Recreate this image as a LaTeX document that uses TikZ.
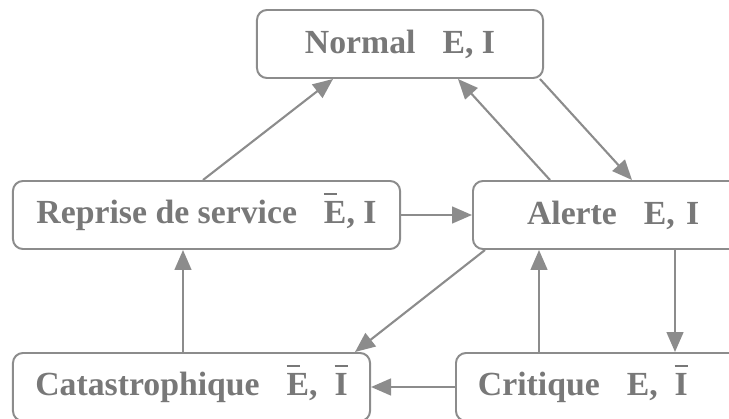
\documentclass[tikz,border=0pt]{standalone}
\usepackage{fontspec}
\setmainfont{Liberation Serif}
\usetikzlibrary{arrows.meta}

\definecolor{trait}{RGB}{140,140,140}
\definecolor{encre}{RGB}{120,120,120}
% lettre surlignee (negation)
\newcommand{\barre}[1]{\leavevmode\setbox0\hbox{#1}%
  \rlap{\smash{\raisebox{\dimexpr\ht0+0.17em\relax}{\rule{0.4em}{0.08em}}}}\box0}

\begin{document}
\begin{tikzpicture}[x=0.025cm, y=-0.025cm,
    etat/.style={draw=trait, line width=1.4pt, rounded corners=0.25cm,
      minimum height=1.7cm, text=encre,
      font=\fontsize{24}{28}\selectfont\bfseries},
    fleche/.style={draw=trait, line width=1.5pt,
      -{Triangle[length=0.5cm, width=0.42cm]}}]
  	\useasboundingbox (0,0) rectangle (729,419);
  	\clip (0,0) rectangle (729,419);

  	% les cinq etats
  	\node[etat, minimum width=7.15cm] (normal) at (400,44)
    		{Normal\hspace{0.8em}E, I};
  	\node[etat, minimum width=9.675cm] (reprise) at (206.5,215)
    		{Reprise de service\hspace{0.8em}\barre{E}, I};
  	\node[etat, anchor=west, text width=6cm, align=left, inner xsep=1.35cm]
    		(alerte) at (472,215) {Alerte\hspace{0.8em}E, I};
  	\node[etat, minimum width=8.925cm] (catas) at (191.5,387)
    		{Catastrophique\hspace{0.8em}\barre{E},\hspace{0.5em}\barre{I}};
  	\node[etat, anchor=west, text width=7cm, align=left, inner xsep=0.55cm]
    		(critique) at (455,387) {Critique\hspace{0.8em}E,\hspace{0.5em}\barre{I}};

  	% transitions
  	\draw[fleche] (reprise.north -| 203,0) -- (normal.south -| 333,0);
  	\draw[fleche] (alerte.north -| 550,0) -- (normal.south -| 458,0);
  	\draw[fleche] (normal.south -| 540,0) -- (alerte.north -| 632,0);
  	\draw[fleche] (reprise.east) -- (alerte.west);
  	\draw[fleche] (alerte.south -| 485,0) -- (catas.north -| 355,0);
  	\draw[fleche] (alerte.south -| 675,0) -- (critique.north -| 675,0);
  	\draw[fleche] (critique.north -| 539,0) -- (alerte.south -| 539,0);
  	\draw[fleche] (critique.west) -- (catas.east);
  	\draw[fleche] (catas.north -| 183,0) -- (reprise.south -| 183,0);
\end{tikzpicture}
\end{document}
